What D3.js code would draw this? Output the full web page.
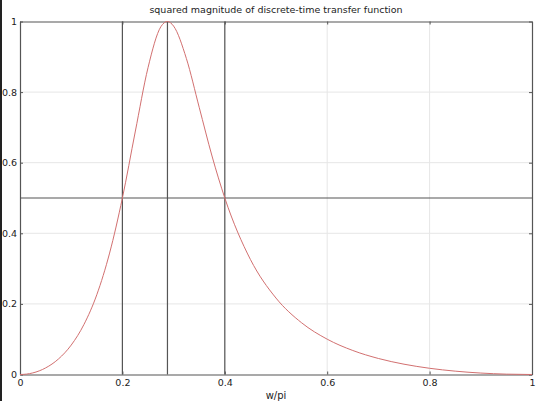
<!DOCTYPE html>
<html>
<head>
<meta charset="utf-8">
<script src="https://cdn.jsdelivr.net/npm/d3@7"></script>
<style>
  html, body { margin: 0; padding: 0; background: #fff; }
  svg { display: block; font-family: "DejaVu Sans", sans-serif; }
</style>
</head>
<body>
<svg id="chart" width="540" height="401"></svg>
<script>
// ---- data ----
const freq = [0, 0.0125, 0.025, 0.05, 0.075, 0.1, 0.125, 0.15, 0.175, 0.2, 0.225, 0.25, 0.275, 0.288, 0.3, 0.325, 0.35, 0.375, 0.4, 0.45, 0.5, 0.55, 0.6, 0.65, 0.7, 0.75, 0.8, 0.85, 0.9, 0.95, 1];
const magSq = [0, 0.0011, 0.0045, 0.0186, 0.0438, 0.0833, 0.142, 0.226, 0.344, 0.5, 0.687, 0.869, 0.985, 1, 0.987, 0.895, 0.757, 0.619, 0.5, 0.326, 0.2165, 0.1465, 0.1, 0.068, 0.0454, 0.0292, 0.0176, 0.0095, 0.0041, 0.001, 0];
const markerFreqs = [0.2, 0.288, 0.4];
const halfPower = [0.5];
const xTicks = [0, 0.2, 0.4, 0.6, 0.8, 1];
const yTicks = [0, 0.2, 0.4, 0.6, 0.8, 1];
const titleText = "squared magnitude of discrete-time transfer function";
const xLabel = "w/pi";

// ---- layout ----
const svg = d3.select("#chart");
const L = 20, R = 532, T = 21.5, B = 374.5;
const x = d3.scaleLinear().domain([0, 1]).range([L, R]);
const y = d3.scaleLinear().domain([0, 1]).range([B, T]);

// left dark strip (image edge), drawn beneath everything
svg.append("rect").attr("x", 0).attr("y", 0).attr("width", 2).attr("height", 401).attr("fill", "#222");

// grid
const grid = svg.append("g");
grid.selectAll(".gx").data(xTicks.slice(1, -1)).join("line")
  .attr("x1", d => x(d)).attr("x2", d => x(d)).attr("y1", T).attr("y2", B)
  .attr("stroke", "#e6e6e6").attr("stroke-width", 1);
grid.selectAll(".gy").data(yTicks.slice(1, -1)).join("line")
  .attr("x1", L).attr("x2", R).attr("y1", d => y(d)).attr("y2", d => y(d))
  .attr("stroke", "#e6e6e6").attr("stroke-width", 1);

// frame axes with inward ticks
const tickLen = -3;
const axB = d3.axisBottom(x).tickValues(xTicks).tickFormat(d3.format("~g")).tickSizeInner(tickLen).tickSizeOuter(0).tickPadding(5);
const axT = d3.axisTop(x).tickValues(xTicks).tickFormat("").tickSizeInner(tickLen).tickSizeOuter(0);
const axL = d3.axisLeft(y).tickValues(yTicks).tickFormat(d3.format("~g")).tickSizeInner(tickLen).tickSizeOuter(0).tickPadding(3);
const axR = d3.axisRight(y).tickValues(yTicks).tickFormat("").tickSizeInner(tickLen).tickSizeOuter(0);

function styleAxis(g) {
  g.select(".domain").attr("stroke", "#555").attr("stroke-width", 1.2);
  g.selectAll(".tick line").attr("stroke", "#555");
  g.selectAll(".tick text").attr("fill", "#222").attr("font-size", "9.5px").attr("font-family", "DejaVu Sans, sans-serif");
}
svg.append("g").attr("transform", `translate(0,${B})`).call(axB).call(styleAxis);
svg.append("g").attr("transform", `translate(0,${T})`).call(axT).call(styleAxis);
svg.append("g").attr("transform", `translate(${L},0)`).call(axL).call(styleAxis);
svg.append("g").attr("transform", `translate(${R},0)`).call(axR).call(styleAxis);

// marker lines
svg.append("g").selectAll("line").data(markerFreqs).join("line")
  .attr("x1", d => x(d)).attr("x2", d => x(d)).attr("y1", T).attr("y2", B)
  .attr("stroke", "#555").attr("stroke-width", 1.2);
svg.append("g").selectAll("line").data(halfPower).join("line")
  .attr("x1", L).attr("x2", R).attr("y1", d => y(d)).attr("y2", d => y(d))
  .attr("stroke", "#555").attr("stroke-width", 1.2);

// curve
const pts = freq.map((f, i) => [f, magSq[i]]);
svg.append("path").datum(pts)
  .attr("fill", "none").attr("stroke", "#d27070").attr("stroke-width", 1)
  .attr("d", d3.line().x(d => x(d[0])).y(d => y(d[1])).curve(d3.curveMonotoneX));

// title and label
svg.append("text").attr("x", 276).attr("y", 13).attr("text-anchor", "middle")
  .attr("font-size", "9.5px").attr("fill", "#222").text(titleText);
svg.append("text").attr("x", 276).attr("y", 399).attr("text-anchor", "middle")
  .attr("font-size", "10px").attr("fill", "#222").text(xLabel);
</script>
</body>
</html>
